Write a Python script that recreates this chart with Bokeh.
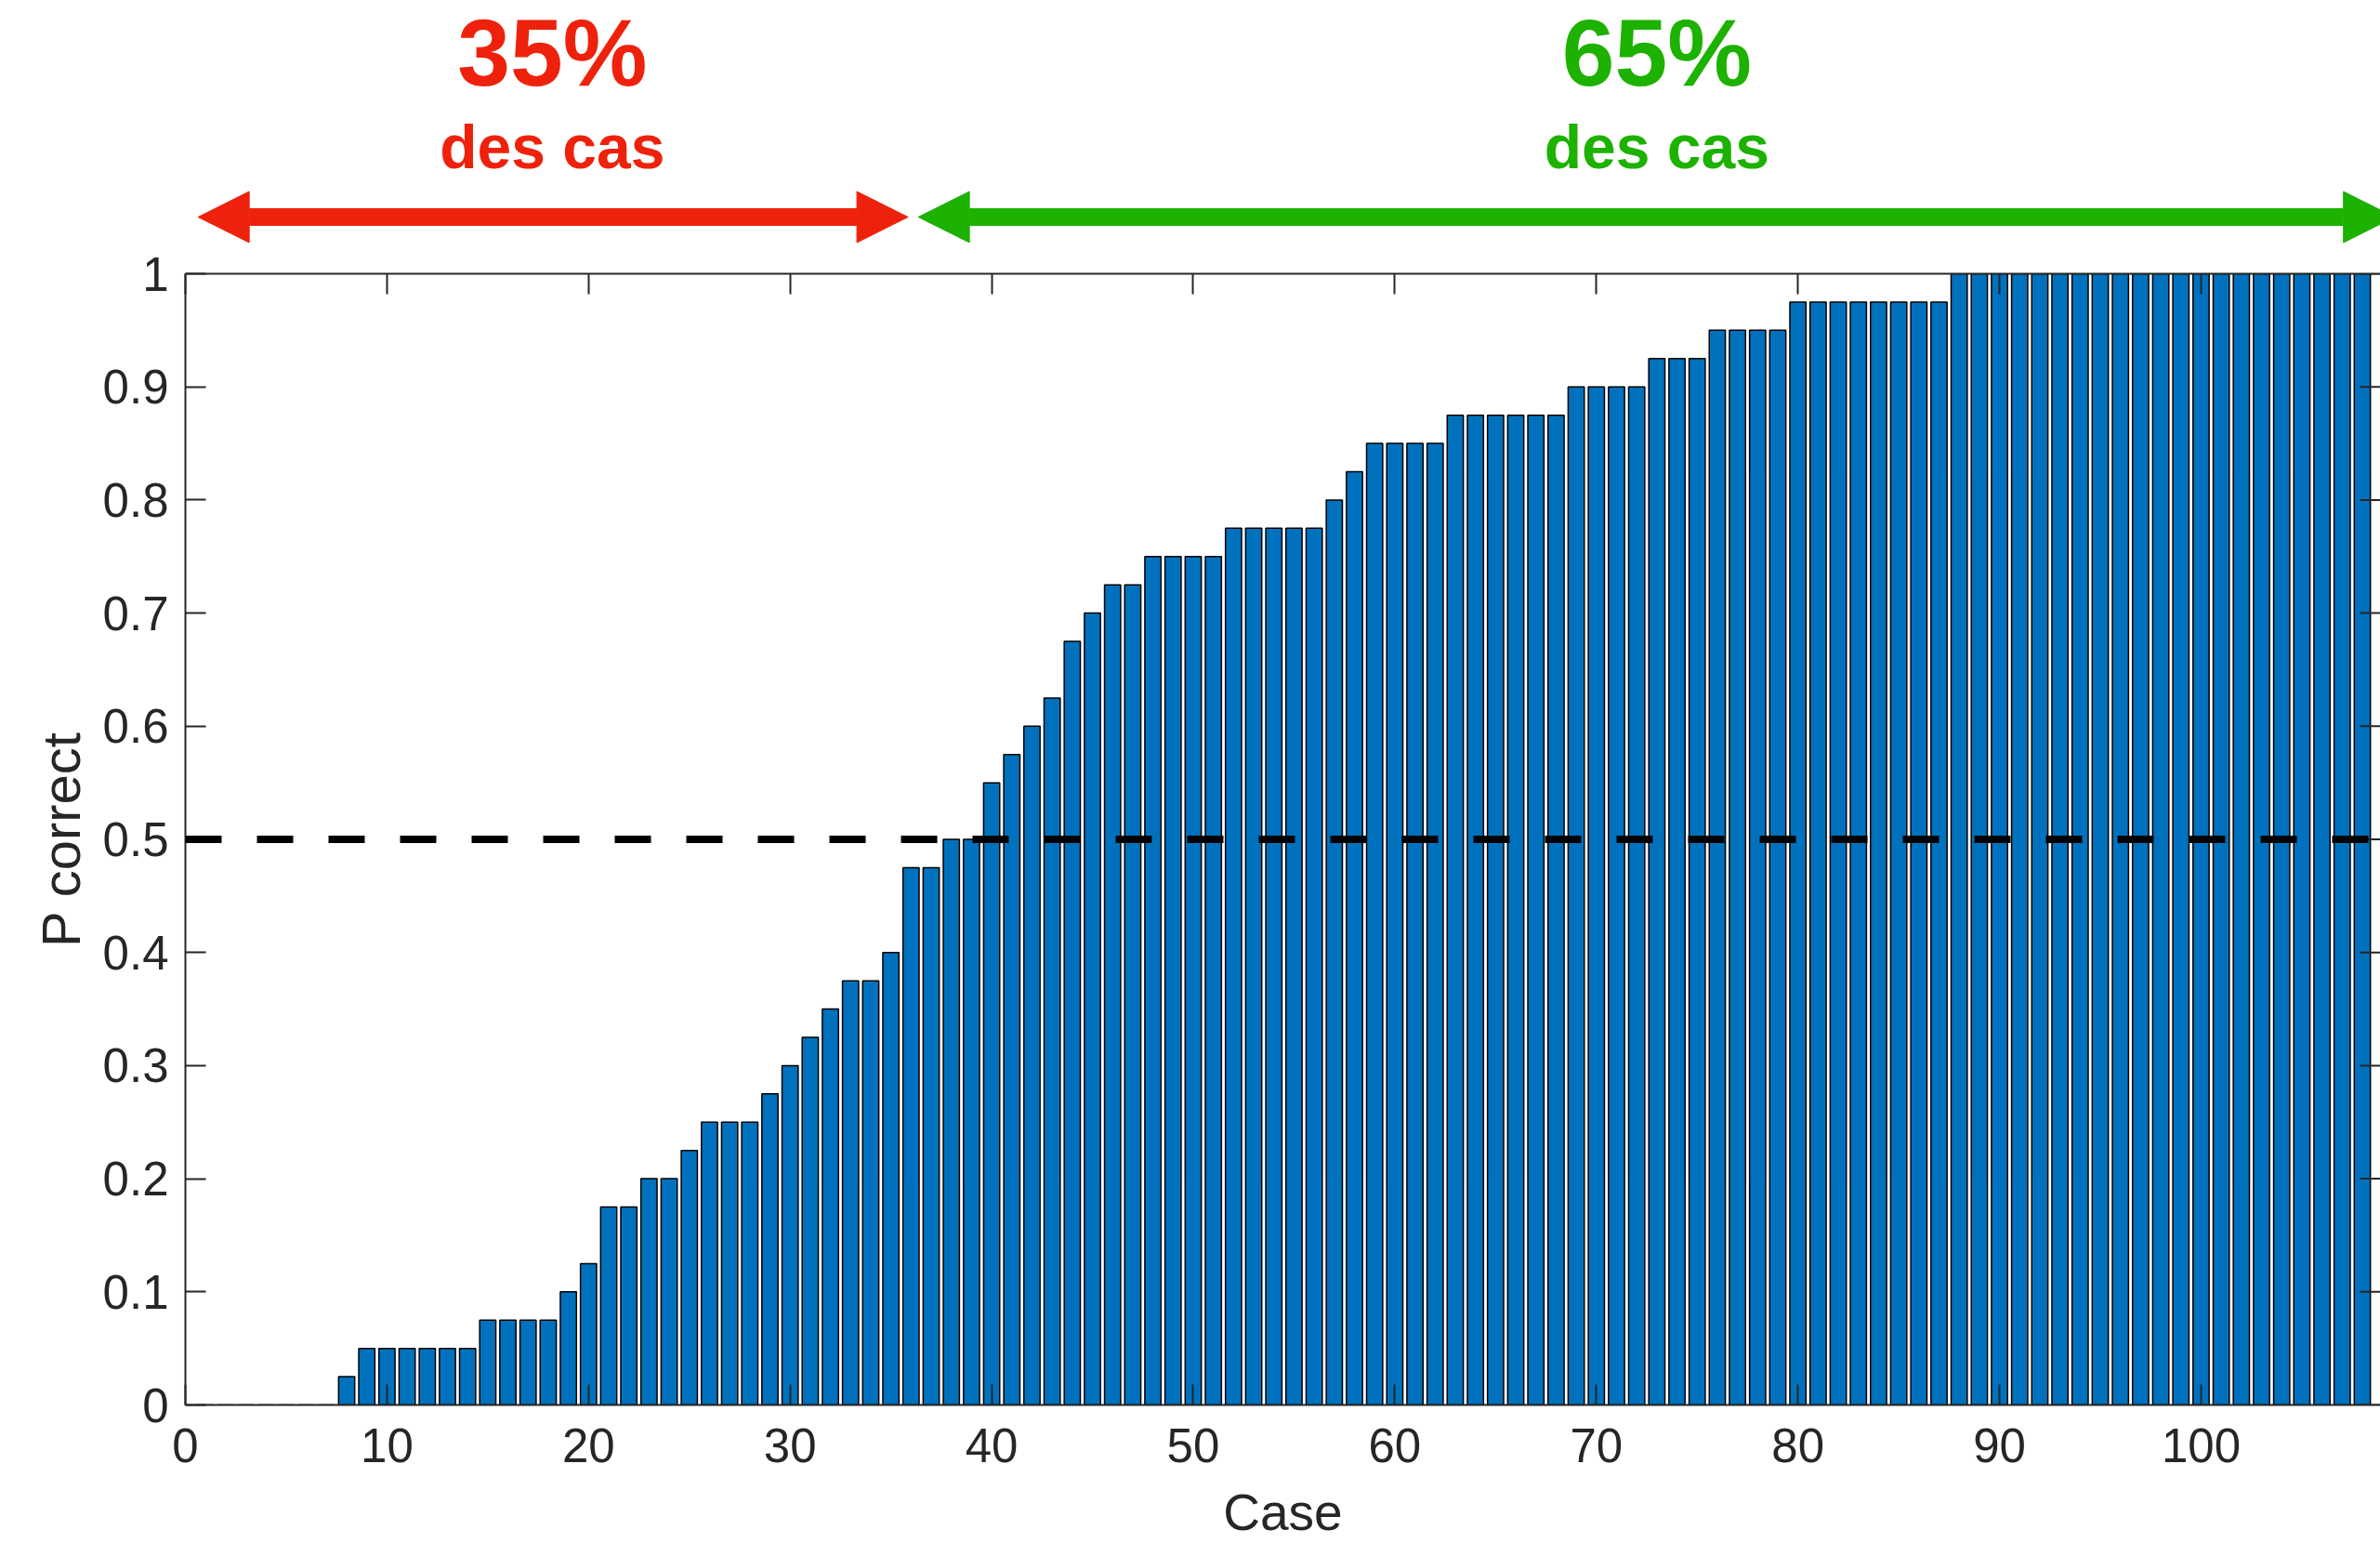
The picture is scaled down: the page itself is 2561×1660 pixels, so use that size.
from bokeh.plotting import figure
from bokeh.layouts import column
from bokeh.models import (Range1d, FixedTicker, NumeralTickFormatter, LinearAxis, Span,
                          Arrow, NormalHead, Label, CustomJSTickFormatter)
from bokeh.embed import file_html
from bokeh.resources import INLINE

# ---------------- data ----------------
cases = list(range(1, 109))
p_correct = [
    0, 0, 0, 0, 0, 0, 0,                                   # 1-7
    0.025,                                                 # 8
    0.05, 0.05, 0.05, 0.05, 0.05, 0.05,                    # 9-14
    0.075, 0.075, 0.075, 0.075,                            # 15-18
    0.1, 0.125, 0.175, 0.175, 0.2, 0.2, 0.225,             # 19-25
    0.25, 0.25, 0.25, 0.275, 0.3, 0.325, 0.35,             # 26-32
    0.375, 0.375, 0.4, 0.475, 0.475, 0.5, 0.5,             # 33-39
    0.55, 0.575, 0.6, 0.625, 0.675, 0.7, 0.725, 0.725,     # 40-47
    0.75, 0.75, 0.75, 0.75,                                # 48-51
    0.775, 0.775, 0.775, 0.775, 0.775,                     # 52-56
    0.8, 0.825,                                            # 57-58
    0.85, 0.85, 0.85, 0.85,                                # 59-62
    0.875, 0.875, 0.875, 0.875, 0.875, 0.875,              # 63-68
    0.9, 0.9, 0.9, 0.9,                                    # 69-72
    0.925, 0.925, 0.925,                                   # 73-75
    0.95, 0.95, 0.95, 0.95,                                # 76-79
    0.975, 0.975, 0.975, 0.975, 0.975, 0.975, 0.975, 0.975,  # 80-87
    1, 1, 1, 1, 1, 1, 1, 1, 1, 1, 1,                       # 88-98
    1, 1, 1, 1, 1, 1, 1, 1, 1, 1,                          # 99-108
]
x_ticks = [0, 10, 20, 30, 40, 50, 60, 70, 80, 90, 100]
y_ticks = [0, 0.1, 0.2, 0.3, 0.4, 0.5, 0.6, 0.7, 0.8, 0.9, 1.0]
threshold = 0.5
share_labels = ["35%", "65%"]
sub_label = "des cas"
x_label = "Case"
y_label = "P correct"

# ---------------- style ----------------
BAR = "#0072BD"
AX = "#262626"
RED = "#EE220C"
GREEN = "#1DB100"
FONT = "Liberation Sans"
W = 2561
TOP_H = 263          # annotation strip
MAIN_TOP = 31
FRAME_H = 1217
MAIN_BOTTOM = 84
MAIN_H = MAIN_TOP + FRAME_H + MAIN_BOTTOM
BOT_H = 1660 - TOP_H - MAIN_H
X_END = 108.9
LEFT = 199

xr = Range1d(0, X_END)


def strip(height):
    f = figure(width=W, height=height, x_range=xr, y_range=Range1d(height, 0),
               output_backend="svg", toolbar_location=None,
               x_axis_type=None, y_axis_type=None,
               min_border_left=LEFT, min_border_right=0,
               min_border_top=0, min_border_bottom=0)
    f.outline_line_color = None
    f.xgrid.visible = False
    f.ygrid.visible = False
    f.background_fill_color = "white"
    f.border_fill_color = "white"
    return f


# ---------------- main chart ----------------
p = figure(width=W, height=MAIN_H,
           x_range=xr, y_range=Range1d(0, 1),
           output_backend="svg", toolbar_location=None,
           min_border_left=LEFT, min_border_right=0,
           min_border_top=MAIN_TOP, min_border_bottom=MAIN_BOTTOM)
p.outline_line_color = None
p.xgrid.visible = False
p.ygrid.visible = False
p.background_fill_color = "white"
p.border_fill_color = "white"

p.vbar(x=cases, top=p_correct, width=0.8, bottom=0,
       fill_color=BAR, line_color="black", line_width=1.5)

p.add_layout(Span(location=threshold, dimension="width", line_color="black",
                  line_width=8, line_dash="39 38"))


def style_axis(ax, ticks):
    ax.ticker = FixedTicker(ticks=ticks)
    ax.major_tick_in = 22
    ax.major_tick_out = 0
    ax.minor_tick_in = 0
    ax.minor_tick_out = 0
    ax.minor_tick_line_color = None
    ax.axis_line_color = AX
    ax.axis_line_width = 2
    ax.major_tick_line_color = AX
    ax.major_tick_line_width = 2
    ax.major_label_text_font = FONT
    ax.major_label_text_font_size = "51px"
    ax.major_label_text_color = AX
    ax.axis_label_text_font = FONT
    ax.axis_label_text_font_size = "58px"
    ax.axis_label_text_font_style = "normal"
    ax.axis_label_text_color = AX


xb = p.xaxis[0]
style_axis(xb, x_ticks)
xb.major_label_standoff = 25

yl = p.yaxis[0]
style_axis(yl, y_ticks)
yl.formatter = NumeralTickFormatter(format="0.[0]")
yl.major_label_standoff = 18
yl.axis_label = y_label
yl.axis_label_standoff = 10

xt = LinearAxis()
style_axis(xt, x_ticks)
xt.formatter = CustomJSTickFormatter(code="return ''")
xt.major_label_standoff = 0
p.add_layout(xt, "above")

# right-hand inward ticks (the right border itself falls at the image edge)
p.scatter(x=[X_END] * len(y_ticks), y=y_ticks, marker="dash", size=44,
          line_color=AX, line_width=2)

# ---------------- annotation strip (top) ----------------
t = strip(TOP_H)
ARROW_Y = 233
groups = [
    (share_labels[0], RED, 0.63, 35.85, 18.2),
    (share_labels[1], GREEN, 36.36, 109.6, 73.0),
]
for txt, col, xs, xe, xc in groups:
    t.add_layout(Arrow(x_start=xs, y_start=ARROW_Y, x_end=xe, y_end=ARROW_Y,
                       line_color=col, line_width=19,
                       start=NormalHead(size=55, fill_color=col, line_color=col, line_width=1),
                       end=NormalHead(size=55, fill_color=col, line_color=col, line_width=1)))
    t.add_layout(Label(x=xc, y=56, text=txt, text_align="center",
                       text_baseline="alphabetic", text_font=FONT,
                       text_font_size="102px", text_font_style="bold", text_color=col))
    t.add_layout(Label(x=xc, y=157, text=sub_label, text_align="center",
                       text_baseline="alphabetic", text_font=FONT,
                       text_font_size="66px", text_font_style="bold", text_color=col))

# ---------------- x-axis title strip (bottom) ----------------
b = strip(BOT_H)
b.add_layout(Label(x=X_END / 2, y=31, text=x_label, text_align="center",
                   text_baseline="alphabetic", text_font=FONT,
                   text_font_size="55px", text_color=AX))

layout = column(t, p, b, spacing=0)
open("out.html", "w").write(file_html(layout, INLINE))
